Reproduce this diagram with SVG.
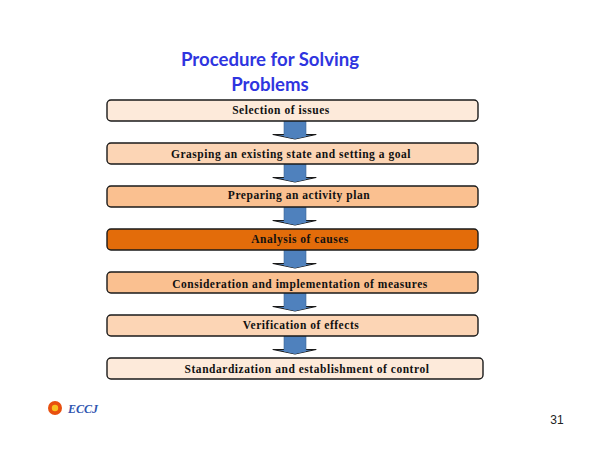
<svg xmlns="http://www.w3.org/2000/svg" width="600" height="450" viewBox="0 0 600 450">
<style>
.box{stroke:#1a1a1a;stroke-width:1.4}
.lbl{font:bold 11.5px "Liberation Serif",serif;text-anchor:middle;fill:#111;letter-spacing:.53px}
.ttl{font:bold 18.6px Lato,"Open Sans",sans-serif;text-anchor:middle;fill:#2f35e0}
.arr{fill:#4f81bd;stroke:none}
.hd{fill:#4f81bd;stroke:#1a1a1a;stroke-width:1.1;stroke-linejoin:round}
</style>
<defs>
<g id="a"><path class="hd" d="M273 13.5H316L295 18Z"/><path class="arr" d="M284 0H306V15.5L295 18L284 15.500Z"/><path d="M284 0V13.500M306 0V13.500" stroke="#3d6696" stroke-width=".6" fill="none"/></g>
</defs>
<rect width="600" height="450" fill="#fff"/>
<text class="ttl" x="270" y="66">Procedure for Solving</text>
<text class="ttl" x="270" y="91">Problems</text>
<g id="connectors">
<use href="#a" y="121"/>
<use href="#a" y="164"/>
<use href="#a" y="207"/>
<use href="#a" y="250"/>
<use href="#a" y="293"/>
<use href="#a" y="336"/>
</g>
<g id="n1"><rect class="box" x="107" y="100" width="371" height="21" rx="4" fill="#fdeada"/><text class="lbl" x="281" y="114">Selection of issues</text></g>
<g id="n2"><rect class="box" x="107" y="143" width="371" height="21" rx="4" fill="#fcd5b5"/><text class="lbl" x="291" y="158">Grasping an existing state and setting a goal</text></g>
<g id="n3"><rect class="box" x="107" y="186" width="371" height="21" rx="4" fill="#fac090"/><text class="lbl" x="299" y="199">Preparing an activity plan</text></g>
<g id="n4"><rect class="box" x="107" y="229" width="371" height="21" rx="4" fill="#e36c0a"/><text class="lbl" x="300" y="243">Analysis of causes</text></g>
<g id="n5"><rect class="box" x="107" y="272" width="371" height="21" rx="4" fill="#fac090"/><text class="lbl" x="300" y="288">Consideration and implementation of measures</text></g>
<g id="n6"><rect class="box" x="107" y="315" width="371" height="21" rx="4" fill="#fcd5b5"/><text class="lbl" x="301" y="329">Verification of effects</text></g>
<g id="n7"><rect class="box" x="107" y="358" width="376" height="21" rx="4" fill="#fdeada"/><text class="lbl" x="307" y="373">Standardization and establishment of control</text></g>
<g id="logo"><circle cx="55" cy="408" r="7" fill="#e8500f"/><circle cx="55" cy="408" r="3.2" fill="#f8c020"/>
<text x="68" y="413" style="font:italic bold 12px 'Liberation Serif',serif;fill:#2f55b0">ECCJ</text></g>
<text x="557" y="424" style="font:12px 'Liberation Sans',sans-serif;fill:#222;text-anchor:middle">31</text>
</svg>
